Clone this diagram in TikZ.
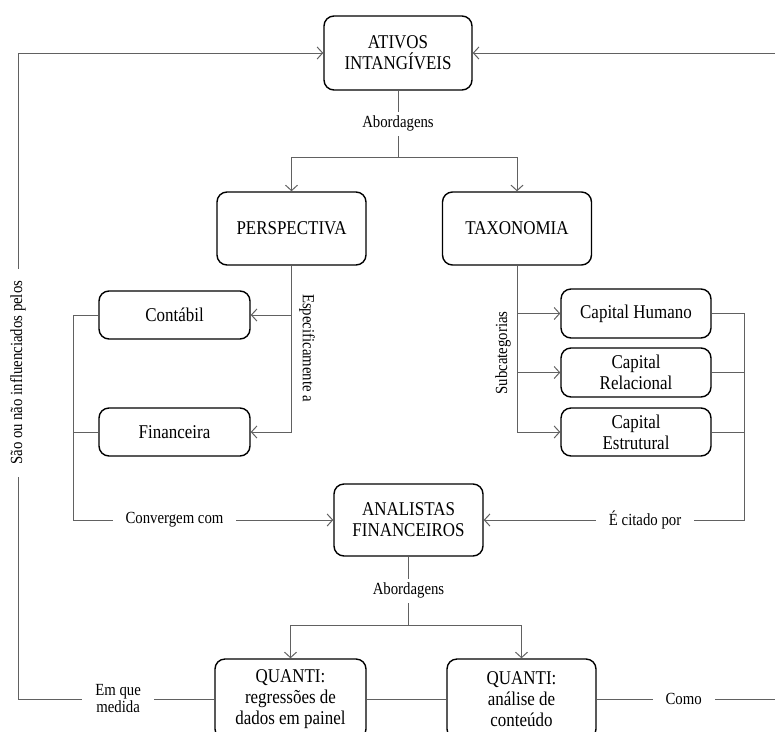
\documentclass[tikz,border=0pt]{standalone}
\usepackage{fontspec}
\setmainfont{Liberation Serif}[FakeStretch=0.87]
\usetikzlibrary{arrows.meta}
\begin{document}
\begin{tikzpicture}[x=1pt,y=-1pt,
  box/.style={draw=black, line width=1.4pt, rounded corners=10pt, align=center,
    font=\fontsize{19.5}{21}\selectfont, inner sep=2pt},
  conn/.style={draw=black!62, line width=1pt},
  arr/.style={conn, -{Straight Barb[length=5.5pt,width=12pt]}},
  lbl/.style={fill=white, font=\fontsize{17}{17}\selectfont, inner xsep=13pt, inner ysep=4pt, align=center},
  rot/.style={fill=white, font=\fontsize{17}{17}\selectfont, inner sep=2pt},
]
\useasboundingbox (0,0) rectangle (775,731);

% boxes
\node[box, minimum width=148pt, minimum height=74pt] (ativos) at (398,53) {ATIVOS\\INTANGÍVEIS};
\node[box, minimum width=149pt, minimum height=73pt] (persp) at (291.5,228.5) {PERSPECTIVA};
\node[box, minimum width=149pt, minimum height=73pt] (taxo) at (517,228.5) {TAXONOMIA};
\node[box, minimum width=151pt, minimum height=48pt] (cont) at (174.5,315) {Contábil};
\node[box, minimum width=151pt, minimum height=48pt] (fin) at (174.5,432) {Financeira};
\node[box, minimum width=150pt, minimum height=49pt] (ch) at (636,313.5) {Capital Humano};
\node[box, minimum width=150pt, minimum height=49pt] (cr) at (636,372.5) {Capital\\Relacional};
\node[box, minimum width=150pt, minimum height=48pt] (ce) at (636,432) {Capital\\Estrutural};
\node[box, minimum width=149pt, minimum height=72pt] (anal) at (408.5,520) {ANALISTAS\\FINANCEIROS};
\node[box, minimum width=151pt, minimum height=80pt] (q1) at (290.5,699) {QUANTI:\\regressões de\\dados em painel};
\node[box, minimum width=149pt, minimum height=80pt] (q2) at (521.5,699) {QUANTI:\\análise de\\conteúdo};

% coordinates
\coordinate (tl) at (18,53);
\coordinate (bl) at (18,699);
\coordinate (tr) at (790,53);
\coordinate (br) at (790,699);
\coordinate (a1) at (398,157);
\coordinate (b1) at (408.5,625);
\coordinate (l3) at (73,520);
\coordinate (r3) at (744,520);

% top: abordagens
\draw[conn] (ativos.south) -- node[lbl]{Abordagens} (a1);
\draw[arr] (a1) -| (persp.north);
\draw[arr] (a1) -| (taxo.north);

% perspectiva branch
\draw[arr] (persp.south) |- (fin.east);
\draw[arr] (persp.south |- cont.east) -- (cont.east);
\node[rot, rotate=-90] (esp) at (307,348) {Especificamente a};

% taxonomia branch
\draw[arr] (taxo.south) |- (ce.west);
\draw[arr] (taxo.south |- ch.west) -- (ch.west);
\draw[arr] (taxo.south |- cr.west) -- (cr.west);
\node[rot, rotate=90] (sub) at (503,353) {Subcategorias};

% left trunk
\draw[arr] (cont.west) -| (l3) -- node[lbl,pos=0.39]{Convergem com} (anal.west);
\draw[conn] (fin.west) -- (fin.west -| l3);

% right trunk
\draw[arr] (ch.east) -| (r3) -- node[lbl,pos=0.38]{É citado por} (anal.east);
\draw[conn] (cr.east) -- (cr.east -| r3);
\draw[conn] (ce.east) -- (ce.east -| r3);

% bottom abordagens
\draw[conn] (anal.south) -- node[lbl]{Abordagens} (b1);
\draw[arr] (b1) -| (q1.north);
\draw[arr] (b1) -| (q2.north);

% bottom loop
\draw[conn] (q1.east) -- (q2.west);
\draw[arr] (q1.west) -- node[lbl,pos=0.49]{Em que\\medida} (bl)
  -- node[rot, rotate=90, pos=0.505, inner xsep=12pt]{São ou não influenciados pelos} (tl) -- (ativos.west);
\draw[arr] (q2.east) -- node[lbl,pos=0.45]{Como} (br) -- (tr) -- (ativos.east);
\end{tikzpicture}
\end{document}
